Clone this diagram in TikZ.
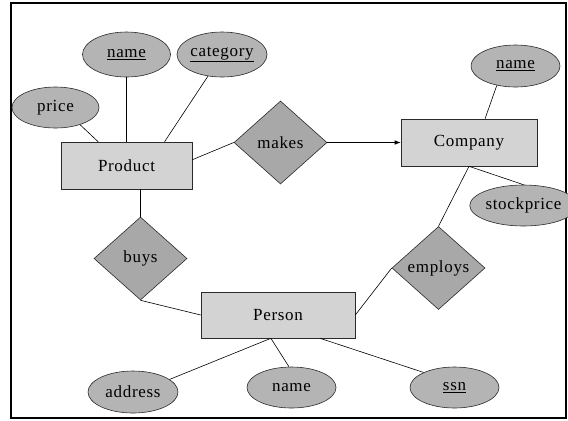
\documentclass[tikz,border=0pt]{standalone}
\usepackage{fontspec}
\setmainfont[LetterSpace=4]{Liberation Serif}
\usetikzlibrary{shapes.geometric,arrows.meta}
\definecolor{ellfill}{HTML}{B4B4B4}
\definecolor{diafill}{HTML}{A8A8A8}
\definecolor{entfill}{HTML}{D3D3D3}
\definecolor{edge}{HTML}{2A2A2A}
\tikzset{
  base/.style={draw=edge, line width=0.6bp, inner sep=0pt, font=\fontsize{17bp}{20bp}\selectfont},
  entity/.style={base, rectangle, fill=entfill},
  attr/.style={base, ellipse, fill=ellfill, minimum width=89bp, minimum height=42bp},
  rel/.style={base, diamond, fill=diafill, minimum width=93bp, minimum height=83bp, aspect=1.12},
  conn/.style={draw=black, line width=0.6bp},
}
\begin{document}
\begin{tikzpicture}[x=1bp, y=-1bp]
\useasboundingbox (0,0) rectangle (568,420);
\draw[line width=1.3bp] (11,3) rectangle (566,418);

% entities
\node[entity, minimum width=131bp, minimum height=47bp] (product) at (126.5,165.5) {Product};
\node[entity, minimum width=136bp, minimum height=47bp] (company) at (469,142.5) {Company};
\node[entity, minimum width=154bp, minimum height=46bp] (person) at (278,315) {Person};

% relationships
\node[rel] (makes) at (280.5,142.5) {makes};
\node[rel] (buys) at (140.5,258.5) {buys};
\node[rel] (employs) at (438.5,268) {employs};

% attributes
\node[attr, minimum width=88bp, minimum height=45bp] (pname) at (126.5,54.5) {\underline{name}};
\node[attr, minimum width=90bp, minimum height=45bp] (category) at (222,54.5) {\underline{category}};
\node[attr, minimum width=87bp, minimum height=41bp] (price) at (55.5,107.5) {price};
\node[attr, minimum width=89bp, minimum height=42bp] (cname) at (515.5,66) {\underline{name}};
\node[attr, minimum width=88bp, minimum height=41bp] (stock) at (523.5,205.5) {stockprice};
\node[attr, minimum width=90bp, minimum height=42bp] (address) at (133,392) {address};
\node[attr, minimum width=89bp, minimum height=41bp] (ename) at (291.5,387.5) {name};
\node[attr, minimum width=89bp, minimum height=41bp] (ssn) at (454.5,387.5) {\underline{ssn}};

% connectors
\draw[conn] (price.-35) -- (product.140);
\draw[conn] (pname.south) -- (product.north);
\draw[conn] (category.237) -- (product.32);
\draw[conn] (product.5) -- (makes.west);
\draw[conn, -{Latex[length=6bp,width=4.5bp]}] (makes.east) -- (company.west);
\draw[conn] (cname.-134) -- (company.56);
\draw[conn] (company.south) -- (stock.north);
\draw[conn] (company.south) -- (employs.north);
\draw[conn] (employs.west) -- (person.east);
\draw[conn] (buys.north |- product.south) -- (buys.north);
\draw[conn] (buys.south) -- (person.west);
\draw[conn] (person.-107) -- (address.19.7);
\draw[conn] (person.-107) -- (ename.97);
\draw[conn] (person.-29.9) -- (ssn.154.4);
\end{tikzpicture}
\end{document}
